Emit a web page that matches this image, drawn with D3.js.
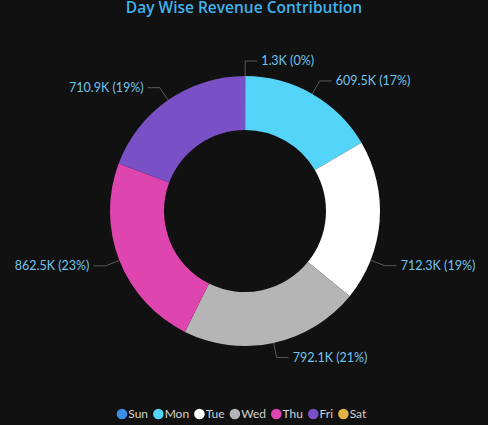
<!DOCTYPE html>
<html><head><meta charset="utf-8">
<script src="https://cdn.jsdelivr.net/npm/d3@7"></script>
<style>
html,body{margin:0;padding:0;background:#111111;}
svg{display:block;}
</style></head>
<body>
<script>
// ---- data ----
const days = ["Sun","Mon","Tue","Wed","Thu","Fri","Sat"];
const revenue = [1.3, 609.5, 712.3, 792.1, 862.5, 710.9, 0]; // thousands
const labelText = ["1.3K (0%)","609.5K (17%)","712.3K (19%)","792.1K (21%)","862.5K (23%)","710.9K (19%)",""];
const dayColors = ["#3a8ee6","#55d4f9","#ffffff","#b5b5b5","#de45ae","#7a50c6","#e2b245"];
const titleText = "Day Wise Revenue Contribution";

const W = 488, H = 425;
const cx = 245, cy = 211, rOuter = 135, rInner = 81;
const labelFont = "'Segoe UI', Lato, 'Open Sans', sans-serif";

const svg = d3.select("body").append("svg").attr("width", W).attr("height", H);
svg.append("rect").attr("width", W).attr("height", H).attr("fill", "#111111");

svg.append("text").attr("x", 244).attr("y", 13)
  .attr("text-anchor","middle")
  .attr("font-family","'Open Sans', 'Segoe UI', sans-serif")
  .attr("font-weight", 600).attr("font-size", 15.5)
  .attr("fill","#3fb3ec").text(titleText);

const rows = days.map((d,i)=>({day:d, value:revenue[i], label:labelText[i], color:dayColors[i]}));
const pie = d3.pie().value(d=>d.value).sort(null);
const arcs = pie(rows).filter(a=>a.data.value>0);
const arc = d3.arc().innerRadius(rInner).outerRadius(rOuter);

const g = svg.append("g").attr("transform",`translate(${cx},${cy})`);
g.selectAll("path.slice").data(arcs).enter().append("path")
  .attr("class","slice").attr("d", arc).attr("fill", d=>d.data.color);

// leader lines & labels
const anchorShift = {Tue: 17 * Math.PI/180};
const rElbow = 150, hLen = 12, gap = 4;
arcs.forEach(a=>{
  const ang = (a.startAngle + a.endAngle)/2 + (anchorShift[a.data.day]||0);
  const p0 = [rOuter*Math.sin(ang), -rOuter*Math.cos(ang)];
  const p1 = [rElbow*Math.sin(ang), -rElbow*Math.cos(ang)];
  const right = Math.sin(ang) >= -0.001;
  const p2 = [p1[0] + (right?hLen:-hLen), p1[1]];
  g.append("polyline").attr("points",[p0,p1,p2].map(p=>p.join(",")).join(" "))
    .attr("fill","none").attr("stroke","#5a5a5a").attr("stroke-width",1);
  g.append("text").attr("x", p2[0] + (right?gap:-gap)).attr("y", p2[1])
    .attr("dy","0.35em").attr("text-anchor", right?"start":"end")
    .attr("font-family", labelFont).attr("font-size",12.5)
    .attr("fill","#72c4ec").text(a.data.label);
});

// legend
const leg = svg.append("g");
const rDot = 5.3;
let x = 0;
rows.forEach(r=>{
  const it = leg.append("g");
  it.append("circle").attr("cx", x+rDot).attr("cy", 0).attr("r", rDot).attr("fill", r.color);
  const t = it.append("text").attr("x", x+2*rDot+1).attr("y", 0).attr("dy","0.35em")
    .attr("font-family", labelFont).attr("font-size",12)
    .attr("fill","#d0d0d0").text(r.day);
  x += 2*rDot + 1 + t.node().getComputedTextLength() + 5;
});
const totalW = x - 5;
leg.attr("transform",`translate(${241.5 - totalW/2},414)`);
</script>
</body></html>
